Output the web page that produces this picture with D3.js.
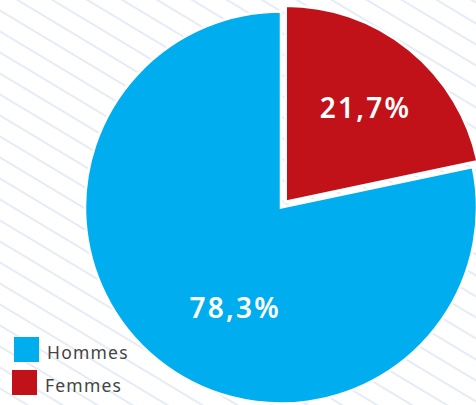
<!DOCTYPE html>
<html><head><meta charset="utf-8">
<script src="https://cdn.jsdelivr.net/npm/d3@7"></script>
<style>html,body{margin:0;padding:0;background:#fff;overflow:hidden}</style>
</head><body>
<svg id="c" width="476" height="405"></svg>
<script>
const categories = ["Hommes", "Femmes"];
const values = [78.3, 21.7];
const valueLabels = ["78,3%", "21,7%"];
const colors = ["#00aeef", "#c1121a"];

const W = 476, H = 405;
const svg = d3.select("#c");

// striped background
const defs = svg.append("defs");
const pat = defs.append("pattern").attr("id", "stripes")
  .attr("patternUnits", "userSpaceOnUse").attr("width", 18).attr("height", 18)
  .attr("patternTransform", "rotate(31)");
pat.append("rect").attr("width", 18).attr("height", 18).attr("fill", "#fff");
pat.append("line").attr("x1", 0).attr("y1", 9).attr("x2", 18).attr("y2", 9)
  .attr("stroke", "#e4eaf4").attr("stroke-width", 1.8);
svg.append("rect").attr("width", W).attr("height", H).attr("fill", "url(#stripes)");

const cx = 281, cy = 207.5, R = 196;
const data = categories.map((c, i) => ({cat: c, value: values[i], label: valueLabels[i], color: colors[i]}));
// Femmes first, clockwise from 12 o'clock
const pie = d3.pie().value(d => d.value).sort((a, b) => (a.cat === "Femmes" ? -1 : b.cat === "Femmes" ? 1 : 0));
const arcs = pie(data);
const arc = d3.arc().innerRadius(0).outerRadius(R);
const explode = {Femmes: 7.5, Hommes: 0};
const labelShift = {Femmes: [2, 1], Hommes: [32, 4]};

const g = svg.append("g").attr("transform", `translate(${cx},${cy})`);
arcs.forEach(a => {
  const mid = (a.startAngle + a.endAngle) / 2;
  const off = explode[a.data.cat];
  const dx = Math.sin(mid) * off, dy = -Math.cos(mid) * off;
  const sg = g.append("g").attr("transform", `translate(${dx},${dy})`);
  sg.append("path").attr("d", arc(a)).attr("fill", a.data.color)
    .attr("stroke", "#fff").attr("stroke-width", 2.5).attr("stroke-linejoin", "miter");
  const lr = R * 0.63;
  const sh = labelShift[a.data.cat];
  sg.append("text")
    .attr("x", Math.sin(mid) * lr + sh[0]).attr("y", -Math.cos(mid) * lr + sh[1])
    .attr("text-anchor", "middle").attr("dominant-baseline", "central")
    .attr("fill", "#fff").attr("font-family", "'Noto Sans', sans-serif")
    .attr("font-weight", 600).attr("font-size", 28).attr("letter-spacing", 2.2)
    .text(a.data.label);
});

// legend
const legend = svg.append("g");
const lx = [14, 12], ly = [337, 370];
data.forEach((d, i) => {
  legend.append("rect").attr("x", lx[i]).attr("y", ly[i]).attr("width", 25).attr("height", 25).attr("fill", d.color);
  legend.append("text").attr("x", lx[i] + 33).attr("y", ly[i] + 22)
    .attr("fill", "#444").attr("font-family", "'Noto Sans', sans-serif")
    .attr("font-size", 17.5).attr("letter-spacing", 1.2).text(d.cat);
});
</script>
</body></html>
